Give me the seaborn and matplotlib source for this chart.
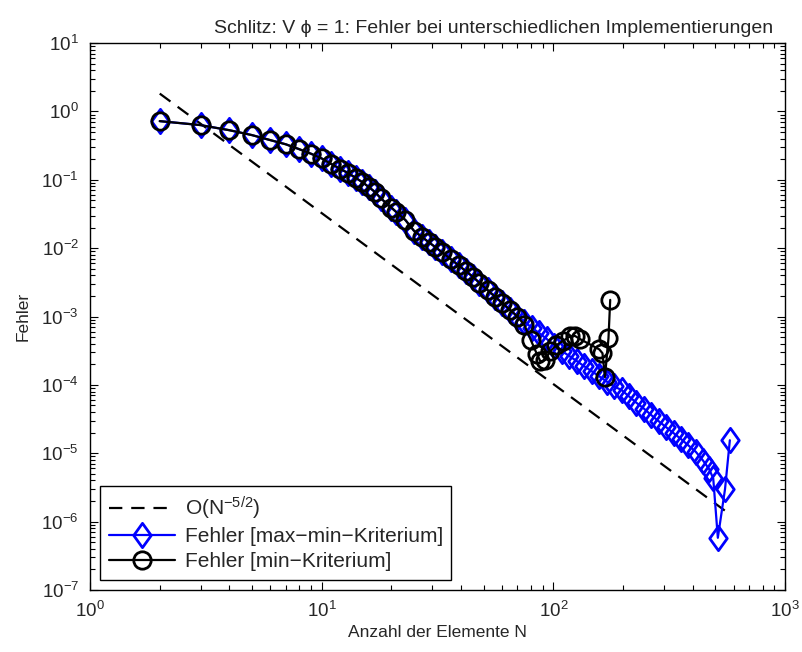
import numpy as np
import pandas as pd
import matplotlib
matplotlib.use("Agg")
import matplotlib.pyplot as plt
from matplotlib.path import Path
import seaborn as sns

# ---------------- data ----------------
ref_N = [2, 556]
ref_err = [1.82, 1.41e-6]

blue_N = [2, 3, 4, 5, 6, 7, 8, 9, 10, 11, 12, 13, 14, 15, 16, 17, 18, 20, 21, 23,
          25, 27, 29, 31, 33, 36, 39, 42, 45, 48, 52, 56, 60, 65, 70, 75, 81, 87,
          94, 101, 109, 117, 126, 136, 147, 158, 170, 183, 197, 212, 228, 246,
          265, 285, 307, 331, 356, 383, 412, 443, 470, 490, 513, 551, 578]
blue_err = [0.72, 0.63, 0.53, 0.45, 0.38, 0.33, 0.28, 0.24, 0.205, 0.17, 0.145,
            0.125, 0.107, 0.092, 0.078, 0.066, 0.0535, 0.039, 0.0337, 0.0257,
            0.018, 0.0147, 0.0122, 0.0103, 0.00875, 0.00695, 0.0056, 0.00458,
            0.0038, 0.0031, 0.00244, 0.00195, 0.00159, 0.00125, 0.00100,
            8.4e-4, 6.8e-4, 5.7e-4, 4.65e-4, 3.7e-4, 3.12e-4, 2.65e-4, 2.24e-4,
            1.87e-4, 1.57e-4, 1.33e-4, 1.12e-4, 9.5e-5, 8.4e-5, 6.8e-5, 5.5e-5,
            4.5e-5, 3.6e-5, 2.94e-5, 2.4e-5, 1.96e-5, 1.61e-5, 1.3e-5, 1.05e-5,
            7.8e-6, 5.9e-6, 4.3e-6, 5.8e-7, 3.0e-6, 1.55e-5]

black_N = [2, 3, 4, 5, 6, 7, 8, 9, 10, 11, 12, 13, 14, 15, 16, 17, 18, 20, 21, 23,
           25, 27, 29, 31, 33, 36, 39, 42, 45, 48, 52, 56, 60, 65, 70, 75, 80, 85,
           88, 92, 97, 103, 110, 118, 124, 130, 158, 163, 167, 173, 176]
black_err = [0.72, 0.63, 0.53, 0.45, 0.38, 0.33, 0.28, 0.24, 0.205, 0.17, 0.145,
             0.125, 0.107, 0.092, 0.078, 0.066, 0.0535, 0.039, 0.0337, 0.0257,
             0.018, 0.0147, 0.0122, 0.0103, 0.00875, 0.00695, 0.0056, 0.00458,
             0.0038, 0.0031, 0.00244, 0.00195, 0.00159, 0.00125, 0.00100,
             7.5e-4, 4.5e-4, 2.8e-4, 2.2e-4, 2.3e-4, 3.1e-4, 3.8e-4, 4.4e-4,
             5.1e-4, 5.2e-4, 4.7e-4, 3.3e-4, 2.9e-4, 1.3e-4, 4.8e-4, 1.75e-3]

title = "Schlitz: V \u03d5 = 1: Fehler bei unterschiedlichen Implementierungen"
xlabel = "Anzahl der Elemente N"
ylabel = "Fehler"
labels = [r"O(N$^{-5/2}$)", "Fehler [max\u2212min\u2212Kriterium]", "Fehler [min\u2212Kriterium]"]

# ---------------- styling ----------------
sns.set_style("ticks")
plt.rcParams["font.family"] = ["Liberation Sans", "DejaVu Sans"]
plt.rcParams["mathtext.fontset"] = "custom"
plt.rcParams["mathtext.rm"] = "Liberation Sans"
plt.rcParams["mathtext.it"] = "Liberation Sans:italic"
plt.rcParams["mathtext.bf"] = "Liberation Sans:bold"
plt.rcParams["mathtext.sf"] = "Liberation Sans"

diamond = Path([(0, 1), (0.72, 0), (0, -1), (-0.72, 0), (0, 1)],
               [Path.MOVETO, Path.LINETO, Path.LINETO, Path.LINETO, Path.CLOSEPOLY])

fig = plt.figure(figsize=(8.02, 6.52), dpi=100)
fig.patch.set_facecolor("white")
ax = fig.add_axes([90 / 802, 62 / 652, 695 / 802, 547 / 652])

df_ref = pd.DataFrame({"N": ref_N, "err": ref_err})
df_blue = pd.DataFrame({"N": blue_N, "err": blue_err})
df_black = pd.DataFrame({"N": black_N, "err": black_err})

sns.lineplot(data=df_ref, x="N", y="err", ax=ax, color="black", linewidth=1.6,
             dashes=False, linestyle=(0, (6.0, 4.0)), estimator=None, sort=False,
             label=labels[0])
sns.lineplot(data=df_blue, x="N", y="err", ax=ax, color=(0, 0, 1), linewidth=1.6,
             marker=diamond, markersize=17.5, markerfacecolor="none",
             markeredgecolor=(0, 0, 1), markeredgewidth=2.0,
             estimator=None, sort=False, label=labels[1])
sns.lineplot(data=df_black, x="N", y="err", ax=ax, color="black", linewidth=1.6,
             marker="o", markersize=12.5, markerfacecolor="none",
             markeredgecolor="black", markeredgewidth=2.0,
             estimator=None, sort=False, label=labels[2])

ax.set_xscale("log")
ax.set_yscale("log")
ax.set_xlim(1, 1000)
ax.set_ylim(1e-7, 10)

for s in ax.spines.values():
    s.set_visible(True)
    s.set_linewidth(1.0)
    s.set_color("black")

ax.tick_params(which="both", direction="in", top=True, right=True, color="black")
ax.tick_params(which="major", length=6, width=0.8, labelsize=13.5, pad=8)
ax.tick_params(which="minor", length=3.5, width=0.8)
ax.yaxis.set_minor_locator(matplotlib.ticker.LogLocator(base=10, subs=np.arange(2, 10), numticks=20))
ax.yaxis.set_major_locator(matplotlib.ticker.LogLocator(base=10, numticks=20))
ax.xaxis.set_minor_locator(matplotlib.ticker.LogLocator(base=10, subs=np.arange(2, 10), numticks=20))
ax.xaxis.get_offset_text().set_visible(False)
ax.yaxis.get_offset_text().set_visible(False)

ax.set_title(title, fontsize=14, x=(494 - 90) / 695, pad=7)
ax.set_xlabel(xlabel, fontsize=12.5, labelpad=3)
ax.set_ylabel(ylabel, fontsize=12.5, labelpad=8)

leg = ax.legend(loc="lower left", bbox_to_anchor=(0.0, 0.0), fontsize=15,
                frameon=True, fancybox=False, edgecolor="black", framealpha=1,
                numpoints=1, handlelength=3.2, borderaxespad=0.5,
                borderpad=0.4, labelspacing=0.28, handletextpad=0.45)
leg.get_frame().set_linewidth(1.0)

fig.savefig("out.png", dpi=100, facecolor="white")
